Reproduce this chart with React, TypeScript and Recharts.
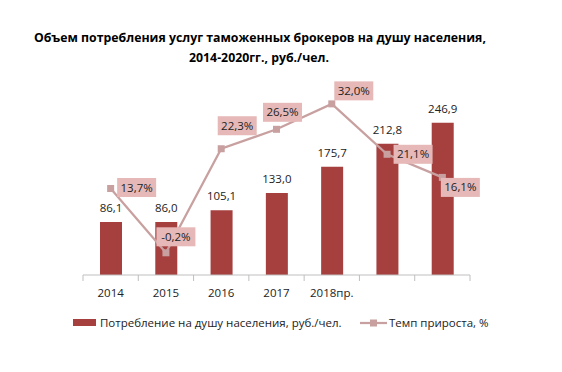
import React from 'react';
import { ComposedChart, Bar, Line, XAxis, YAxis, LabelList } from 'recharts';

const categories = ['2014', '2015', '2016', '2017', '2018', '2019', '2020'];
const tickLabels = ['2014', '2015', '2016', '2017', '2018пр.', '', ''];
const consumption = [86.1, 86.0, 105.1, 133.0, 175.7, 212.8, 246.9];
const growth = [13.7, -0.2, 22.3, 26.5, 32.0, 21.1, 16.1];

const titleLines = [
  'Объем потребления услуг таможенных брокеров на душу населения,',
  '2014-2020гг., руб./чел.',
];
const barName = 'Потребление на душу населения, руб./чел.';
const lineName = 'Темп прироста, %';

const data = categories.map((c, i) => ({
  year: c,
  label: tickLabels[i],
  consumption: consumption[i],
  growth: growth[i],
}));

const BAR = '#a5403f';
const LINE = '#c9a0a0';
const BOX = '#e6b9b8';
const FONT = '"Open Sans", sans-serif';

const W = 562;
const H = 372;
const XAXIS_H = 30;
const M = { top: 90, right: 92, left: 83, bottom: 97 - XAXIS_H };
const BAND = (W - M.left - M.right) / categories.length;

// label box offsets (center relative to point)
const LABEL_OFFSETS: [number, number][] = [
  [26, -1],
  [10, -16],
  [16, -23],
  [6, -17],
  [22, -13],
  [26, 0],
  [18, 10],
];

const fmt = (v: number) => v.toFixed(1).replace('.', ',');

const Tick = (props: any) => {
  const { x, y, payload, index } = props;
  const i = payload?.index ?? index;
  return (
    <g>
      <line x1={x - BAND / 2} x2={x - BAND / 2} y1={y} y2={y + 6} stroke="#bfbfbf" />
      {i === categories.length - 1 && (
        <line x1={x + BAND / 2} x2={x + BAND / 2} y1={y} y2={y + 6} stroke="#bfbfbf" />
      )}
      <text x={x} y={y + 22} textAnchor="middle" fontFamily={FONT} fontSize={11.5} fill="#222">
        {tickLabels[i]}
      </text>
    </g>
  );
};

const SquareDot = (props: any) => {
  const { cx, cy } = props;
  if (cx == null || cy == null) return null;
  return <rect x={cx - 3.5} y={cy - 3.5} width={7} height={7} fill={LINE} />;
};

const GrowthLabel = (props: any) => {
  const { x, y, index, value } = props;
  const [dx, dy] = LABEL_OFFSETS[index] || [0, 0];
  const cx = x + dx;
  const cy = y + dy;
  const text = fmt(value) + '%';
  const w = text.length * 6.6 + 6;
  return (
    <g>
      <rect x={cx - w / 2} y={cy - 9.5} width={w} height={19} fill={BOX} />
      <text x={cx} y={cy + 4} textAnchor="middle" fontFamily={FONT} fontSize={11.5} fill="#222">
        {text}
      </text>
    </g>
  );
};

const BarLabel = (props: any) => {
  const { x, y, width, value } = props;
  return (
    <text x={x + width / 2} y={y - 10} textAnchor="middle" fontFamily={FONT} fontSize={11.5} fill="#222">
      {fmt(value)}
    </text>
  );
};

export default function App() {
  return (
    <div style={{ position: 'absolute', left: 0, top: 0, width: W, height: H, background: '#fff' }}>
      <svg width={W} height={80} style={{ position: 'absolute', left: 0, top: 0 }}>
        <text x={260} y={42} textAnchor="middle" fontFamily={FONT} fontWeight={700} fontSize={12.3} fill="#000">
          {titleLines[0]}
        </text>
        <text x={259} y={62} textAnchor="middle" fontFamily={FONT} fontWeight={700} fontSize={12.3} fill="#000">
          {titleLines[1]}
        </text>
      </svg>
      <div style={{ position: 'absolute', left: 0, top: 0 }}>
        <ComposedChart width={W} height={H} data={data} margin={M}>
          <XAxis
            dataKey="year"
            height={XAXIS_H}
            tick={<Tick />}
            tickLine={false}
            tickSize={0}
            tickMargin={0}
            interval={0}
            axisLine={{ stroke: '#bfbfbf' }}
          />
          <YAxis yAxisId="left" hide domain={[0, 300]} />
          <YAxis yAxisId="right" hide orientation="right" domain={[-5, 35]} />
          <Bar yAxisId="left" dataKey="consumption" name={barName} fill={BAR} barSize={22} isAnimationActive={false}>
            <LabelList dataKey="consumption" content={<BarLabel />} />
          </Bar>
          <Line
            yAxisId="right"
            dataKey="growth"
            name={lineName}
            stroke={LINE}
            strokeWidth={2.25}
            dot={<SquareDot />}
            activeDot={false}
            isAnimationActive={false}
          >
            <LabelList dataKey="growth" content={<GrowthLabel />} />
          </Line>
        </ComposedChart>
      </div>
      <svg width={W} height={40} style={{ position: 'absolute', left: 0, top: 305 }}>
        <rect x={73} y={14} width={23} height={7} fill={BAR} />
        <text x={100} y={22} fontFamily={FONT} fontSize={11.5} fill="#222">
          {barName}
        </text>
        <line x1={360} x2={387} y1={18} y2={18} stroke={LINE} strokeWidth={2.25} />
        <rect x={370} y={14.5} width={7} height={7} fill={LINE} />
        <text x={389} y={22} fontFamily={FONT} fontSize={11.5} fill="#222">
          {lineName}
        </text>
      </svg>
    </div>
  );
}
